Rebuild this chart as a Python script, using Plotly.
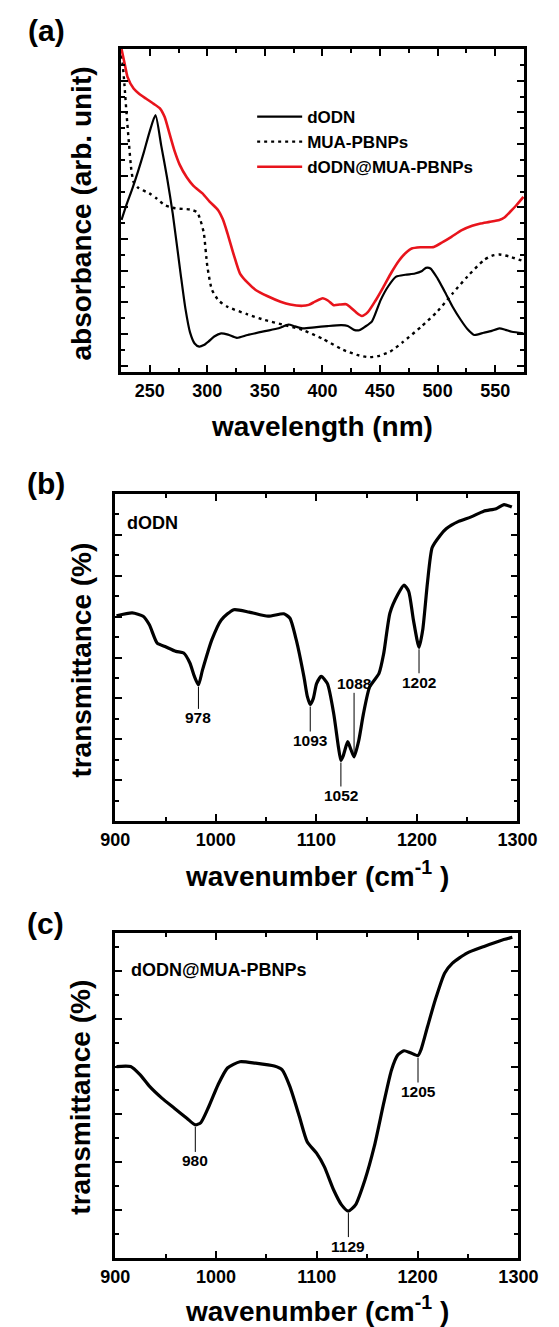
import numpy as np
import plotly.graph_objects as go

FONT = "Liberation Sans, Arial, sans-serif"
RED = "#e8141c"

# ---------------- (a) UV-vis absorbance ----------------
wl_dodn = [225.5, 230, 235, 240, 245, 250, 255, 260, 265, 270, 276.8, 281, 285, 289, 293,
           297, 301, 306, 312, 318, 325.7, 335, 350, 362, 370.5, 376, 382.7, 393, 404.3,
           416.5, 422, 427.4, 432, 437, 443, 450.5, 457, 464, 472, 480.3, 486, 489.8,
           493.8, 500, 506, 513, 520, 526, 531.8, 540, 547, 553.6, 559, 564.4, 574.5]
abs_dodn = [4.6, 5.1, 5.6, 6.15, 6.75, 7.4, 7.91, 6.95, 5.95, 4.8, 2.91, 1.8, 1.05, 0.7, 0.6,
            0.65, 0.76, 0.92, 1.02, 0.98, 0.88, 0.97, 1.09, 1.18, 1.3, 1.24, 1.18, 1.21, 1.25,
            1.28, 1.25, 1.13, 1.12, 1.23, 1.4, 2.07, 2.5, 2.81, 2.87, 2.91, 2.98, 3.09,
            3.07, 2.75, 2.35, 1.86, 1.45, 1.15, 0.97, 1.04, 1.1, 1.18, 1.13, 1.07, 1.02]

wl_mua = [225.5, 226.6, 228, 230, 232, 234, 236, 240, 249.7, 256, 263, 272, 285, 291, 294,
          297, 300, 304, 310, 317.5, 335, 350, 365, 382.6, 400, 418, 430, 439.6, 448,
          458.6, 470, 485.7, 500, 513, 526, 540, 547, 553.6, 562, 574.5]
abs_mua = [9.8, 9.49, 8.9, 7.9, 7.0, 6.2, 5.8, 5.62, 5.44, 5.28, 5.07, 4.97, 4.93, 4.85, 4.6,
           4.18, 3.15, 2.4, 2.05, 1.86, 1.62, 1.44, 1.3, 1.13, 0.85, 0.5, 0.34, 0.27, 0.3,
           0.44, 0.75, 1.23, 1.72, 2.28, 2.82, 3.33, 3.47, 3.51, 3.45, 3.3]

wl_comp = [225.5, 227, 229, 230.7, 236, 241, 247, 253, 259, 263, 267, 271.4, 276, 282, 288,
           295.8, 302, 309.4, 313.5, 317.5, 323, 328.4, 335, 342, 352, 363.6, 372, 382.7,
           388, 393.5, 400.2, 405, 409.8, 415, 420.6, 424, 428.7, 434.2, 439.6, 446, 453,
           460, 466.7, 472, 477.5, 485, 496.6, 504.7, 512, 521, 530, 537.3, 545, 553.6,
           558, 563, 568, 574.5]
abs_comp = [10.0, 9.75, 9.4, 9.12, 8.75, 8.58, 8.43, 8.28, 8.12, 7.85, 7.35, 6.8, 6.35, 5.96,
            5.68, 5.44, 5.18, 4.91, 4.62, 4.18, 3.5, 2.91, 2.62, 2.39, 2.2, 2.02, 1.93, 1.89,
            1.92, 2.02, 2.13, 2.05, 1.91, 1.93, 1.94, 1.85, 1.7, 1.57, 1.7, 2.05, 2.49,
            2.95, 3.33, 3.55, 3.7, 3.74, 3.75, 3.91, 4.07, 4.28, 4.42, 4.49, 4.54, 4.6,
            4.68, 4.86, 5.05, 5.33]

# ---------------- (b) FTIR of dODN ----------------
wn_b = [901.2, 916.8, 927.7, 933.9, 941.7, 949.4, 960.3, 968, 974.3, 978.5, 982.7, 986.7, 996,
        1005.4, 1017.8, 1033.3, 1052, 1067.6, 1073.7, 1080, 1087.7, 1091, 1093.9, 1097,
        1100.2, 1104.8, 1111, 1117.3, 1122, 1124.4, 1126.5, 1128.2, 1131.2, 1134.3, 1137.5,
        1142.1, 1146.8, 1153, 1162.3, 1167, 1173.2, 1181, 1187.2, 1191.8, 1196.5, 1202.1,
        1205.8, 1210.5, 1215.2, 1222.9, 1229.1, 1241.5, 1254, 1266.4, 1278.8, 1286.7, 1294.4]
tr_b = [5.02, 5.09, 5.01, 4.8, 4.35, 4.27, 4.15, 4.11, 3.86, 3.55, 3.33, 3.69, 4.43,
        4.92, 5.17, 5.11, 5.01, 5.07, 4.96, 4.43, 3.52, 3.05, 2.85, 3.0,
        3.36, 3.54, 3.36, 2.62, 1.8, 1.48, 1.58, 1.72, 1.94, 1.75, 1.57,
        1.96, 2.62, 3.28, 3.61, 4.1, 5.09, 5.54, 5.77, 5.62, 4.92, 4.25,
        4.68, 5.83, 6.69, 6.98, 7.15, 7.33, 7.44, 7.58, 7.64, 7.74, 7.68]
peaks_b = [982.7, 1093.9, 1124.4, 1137.5, 1202.1]
peak_text_b = ["978", "1093", "1052", "1088", "1202"]

# ---------------- (c) FTIR of dODN@MUA-PBNPs ----------------
wn_c = [901.2, 915.2, 924.5, 933.8, 946.2, 958.6, 971, 979.4, 984.9, 992.7, 1002, 1011.3,
        1023.7, 1039.2, 1057.8, 1065.6, 1073.3, 1082.6, 1090.4, 1099.7, 1107.4, 1116.7,
        1124.5, 1131.3, 1138.4, 1147.7, 1157, 1166.3, 1174.1, 1180.3, 1186.5, 1192.7,
        1200.4, 1203.5, 1209.8, 1217.5, 1226.8, 1234.6, 1249, 1266, 1282, 1294]
tr_c = [4.0, 4.0, 3.83, 3.59, 3.34, 3.13, 2.92, 2.78, 2.83, 3.16, 3.62, 3.97,
        4.1, 4.07, 4.01, 3.93, 3.58, 2.96, 2.43, 2.19, 1.91, 1.42,
        1.11, 0.98, 1.11, 1.63, 2.33, 3.23, 3.93, 4.24, 4.33, 4.29,
        4.23, 4.36, 4.83, 5.39, 5.95, 6.16, 6.37, 6.51, 6.63, 6.7]
peaks_c = [979.4, 1131.3, 1200.4]
peak_text_c = ["980", "1129", "1205"]

fig = go.Figure()

spline = dict(shape="spline", smoothing=0.6)
fig.add_trace(go.Scatter(x=wl_dodn, y=abs_dodn, mode="lines", name="dODN",
                         line=dict(color="black", width=2.2, **spline), xaxis="x", yaxis="y"))
fig.add_trace(go.Scatter(x=wl_mua, y=abs_mua, mode="lines", name="MUA-PBNPs",
                         line=dict(color="black", width=2.4, dash="3px,4px", **spline),
                         xaxis="x", yaxis="y"))
fig.add_trace(go.Scatter(x=wl_comp, y=abs_comp, mode="lines", name="dODN@MUA-PBNPs",
                         line=dict(color=RED, width=2.6, **spline), xaxis="x", yaxis="y"))
fig.add_trace(go.Scatter(x=wn_b, y=tr_b, mode="lines", showlegend=False,
                         line=dict(color="black", width=3.2, **spline), xaxis="x2", yaxis="y2"))
fig.add_trace(go.Scatter(x=wn_c, y=tr_c, mode="lines", showlegend=False,
                         line=dict(color="black", width=3.2, **spline), xaxis="x3", yaxis="y3"))

W, H = 559, 1327


def px_x(p):
    return p / W


def px_y(p):
    return 1 - p / H


def axis_style(**kw):
    base = dict(showline=True, linewidth=2.8, linecolor="black", mirror="allticks",
                ticks="inside", ticklen=7, tickwidth=2, tickcolor="black",
                showgrid=False, zeroline=False,
                tickfont=dict(family=FONT, size=18, color="black", weight="bold"))
    base.update(kw)
    return base


def minor(step):
    return dict(ticks="inside", ticklen=4, tickwidth=2, tickcolor="black", dtick=step)


layout = dict(
    width=W, height=H, margin=dict(l=0, r=0, t=0, b=0),
    paper_bgcolor="white", plot_bgcolor="white",
    font=dict(family=FONT, color="black"),
    xaxis=axis_style(domain=[px_x(113), px_x(543)], range=[225, 575], anchor="y",
                     tickmode="linear", tick0=250, dtick=50, minor=minor(25)),
    yaxis=axis_style(domain=[px_y(372), px_y(49)], range=[-0.2, 10], anchor="x",
                     tickmode="linear", tick0=0, dtick=1, showticklabels=False,
                     minor=minor(0.5)),
    xaxis2=axis_style(domain=[px_x(107), px_x(536)], range=[900, 1300], anchor="y2",
                      tickmode="linear", tick0=900, dtick=100, minor=minor(50)),
    yaxis2=axis_style(domain=[px_y(821), px_y(494)], range=[0, 8], anchor="x2",
                      tickmode="linear", tick0=0, dtick=1, showticklabels=False,
                      minor=minor(0.5)),
    xaxis3=axis_style(domain=[px_x(107), px_x(537)], range=[900, 1300], anchor="y3",
                      tickmode="linear", tick0=900, dtick=100, minor=minor(50)),
    yaxis3=axis_style(domain=[px_y(1258), px_y(933)], range=[0, 6.79], anchor="x3",
                      tickmode="linear", tick0=0, dtick=1, showticklabels=False,
                      minor=minor(0.5)),
    legend=dict(x=px_x(253), y=px_y(99), xanchor="left", yanchor="top",
                bgcolor="rgba(0,0,0,0)", borderwidth=0, tracegroupgap=0, itemwidth=45,
                font=dict(family=FONT, size=17, color="black", weight="bold")),
    showlegend=True,
)
fig.update_layout(**layout)

ann = []


def text_at(x, y, s, size, angle=0, xanchor="center", bold=True):
    ann.append(dict(xref="paper", yref="paper", x=px_x(x), y=px_y(y), text=s,
                    showarrow=False, xanchor=xanchor, yanchor="middle", textangle=angle,
                    font=dict(family=FONT, size=size, color="black",
                              weight="bold" if bold else "normal")))


# panel letters
text_at(12, 30, "(a)", 30, xanchor="left")
text_at(11, 484, "(b)", 30, xanchor="left")
text_at(11, 923, "(c)", 30, xanchor="left")

# axis titles
text_at(328, 427, "wavelength (nm)", 28)
text_at(72, 213, "absorbance (arb. unit)", 28, angle=-90)
text_at(322, 874, "wavenumber (cm<sup>-1</sup> )", 28)
text_at(70, 660, "transmittance (%)", 28, angle=-90)
text_at(322, 1309, "wavenumber (cm<sup>-1</sup> )", 28)
text_at(69, 1097, "transmittance (%)", 28, angle=-90)

# sample names
text_at(117, 523, "dODN", 18, xanchor="left")
text_at(122, 970, "dODN@MUA-PBNPs", 18, xanchor="left")

# peak markers with leader lines
offsets_b = [33, 36, 35, -73, 35]
offsets_c = [36, 35, 36]
for xs, ys, peaks, texts, offs, xr, yr in [
        (wn_b, tr_b, peaks_b, peak_text_b, offsets_b, "x2", "y2"),
        (wn_c, tr_c, peaks_c, peak_text_c, offsets_c, "x3", "y3")]:
    for p, t, off in zip(peaks, texts, offs):
        ann.append(dict(xref=xr, yref=yr, x=p, y=float(np.interp(p, xs, ys)), text=t,
                        showarrow=True, arrowhead=0, arrowwidth=1, arrowcolor="black",
                        ax=0, ay=off, standoff=2, startstandoff=0, borderpad=0,
                        font=dict(family=FONT, size=15.5, color="black", weight="bold")))

fig.update_layout(annotations=ann)
fig.write_html("out.html")
